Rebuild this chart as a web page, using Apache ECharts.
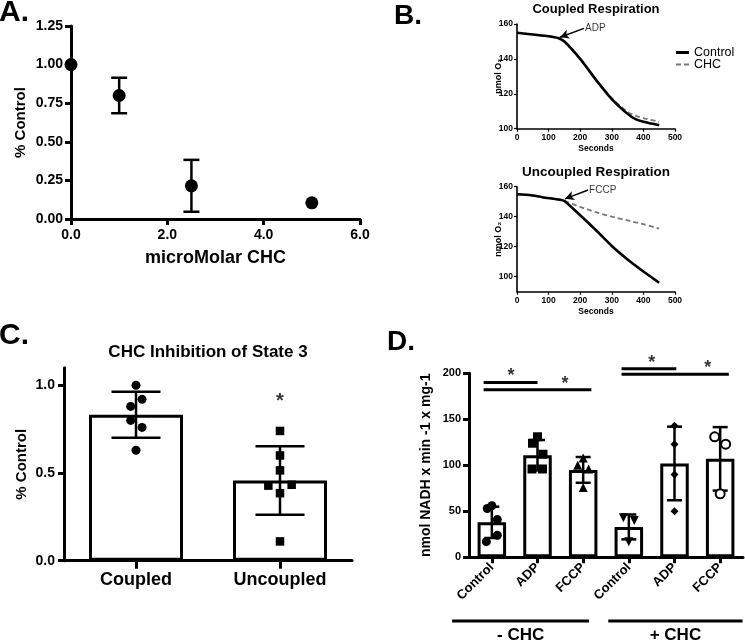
<!DOCTYPE html>
<html><head><meta charset="utf-8">
<script src="https://cdn.jsdelivr.net/npm/echarts@6/dist/echarts.min.js"></script>
<style>html,body{margin:0;padding:0;background:#fff}#c{width:745px;height:642px}</style>
</head><body><div id="c"></div>
<script>
const FONT = '"Liberation Sans", Arial, Helvetica, "DejaVu Sans", sans-serif';

// ---------- Panel A: dose response ----------
const aDose = [0, 1, 2.5, 5];
const aMean = [1.00, 0.80, 0.215, 0.105];
const aErr  = [0, 0.115, 0.168, 0];

// ---------- Panel B: oxygen traces ----------
const bCoupledTime    = [0, 50, 100, 130, 150, 200, 250, 300, 350, 375, 400, 450];
const bCoupledControl = [155, 154, 153, 152, 150, 140, 128, 117, 108.5, 105.5, 104, 102];
const bCoupledCHC     = [155, 154, 153, 152, 150, 140, 128, 117.5, 109.5, 107.5, 106, 104];
const bUncTime        = [0, 40, 80, 136, 150, 200, 250, 300, 350, 400, 450];
const bUncControl     = [155, 154.5, 153, 151.3, 150.5, 141, 131, 120.5, 111.5, 103.5, 96];
const bUncCHC         = [155, 154.5, 153, 151.3, 150.5, 146.5, 143, 140, 137.5, 135, 132];
const bAdpArrow  = [[212, 157.5], [136, 152.4]];
const bFccpArrow = [[225, 157.8], [152, 151.9]];

// ---------- Panel C: CHC inhibition of state 3 ----------
const cCats = ['Coupled', 'Uncoupled'];
const cMean = [0.832, 0.457];
const cSD   = [0.131, 0.195];
const cCoupled   = [1.00, 0.92, 0.88, 0.80, 0.76, 0.63];
const cUncoupled = [0.74, 0.60, 0.515, 0.428, 0.433, 0.385, 0.11];
const cCoupledJitter   = [0, 0.042, -0.037, -0.037, 0.042, 0];
const cUncoupledJitter = [0, 0, 0, -0.081, 0.081, 0, 0];
const cStar = [[1, 0.935]];

// ---------- Panel D: NADH oxidation ----------
const dLabels = ['Control', 'ADP', 'FCCP', 'Control', 'ADP', 'FCCP'];
const dMean = [38, 111, 95, 33, 102, 107];
const dSD   = [17, 16.5, 14, 13.5, 40, 34.5];
const dPoints = [[53, 56, 41, 24, 17], [131, 124, 112, 96, 96], [100, 108, 96, 76], [43, 40, 17], [143, 123, 90, 50], [131, 123, 69]];
const dJitter = [[-0.1, 0, 0.12, 0.12, -0.12], [0, -0.11, 0.12, -0.12, 0.11], [-0.12, 0, 0.12, 0], [-0.12, 0.12, 0], [0, 0, 0, 0], [-0.12, 0.12, 0]];
const dSymbols = ['circle', 'rect', 'triangle', 'triangle', 'diamond', 'emptyCircle'];
const dSymbolRotate = [0, 0, 0, 180, 0, 0];
const dSigFrom = [-0.18, -0.18, 2.84, 2.84];
const dSigTo   = [1.0, 2.18, 4.04, 5.19];
const dSigY    = [190, 182, 205, 199];
const dStarX   = [0.42, 1.6, 3.5, 4.73];
const dStarY   = [190, 182, 205, 199];
const dGroups    = ['- CHC', '+ CHC'];
const dGroupFrom = [-0.87, 2.55];
const dGroupTo   = [2.13, 5.49];

// ---------- helpers ----------
function errorBars(capPx, lw) {
  return function (params, api) {
    const x = api.value(0), m = api.value(1), e = api.value(2);
    if (!e) return null;
    const t = api.coord([x, m + e]), b = api.coord([x, m - e]);
    const st = { stroke: '#000', lineWidth: lw };
    const h = capPx / 2;
    return { type: 'group', children: [
      { type: 'line', shape: { x1: t[0], y1: t[1], x2: b[0], y2: b[1] }, style: st },
      { type: 'line', shape: { x1: t[0] - h, y1: t[1], x2: t[0] + h, y2: t[1] }, style: st },
      { type: 'line', shape: { x1: b[0] - h, y1: b[1], x2: b[0] + h, y2: b[1] }, style: st }
    ]};
  };
}
const zip = (xs, ys) => xs.map((x, i) => [x, ys[i]]);
const bold = (size) => ({ color: '#000', fontFamily: FONT, fontWeight: 'bold', fontSize: size });
const BLACK = { color: '#000', opacity: 1 };
const axLine = (w) => ({ show: true, onZero: false, lineStyle: { color: '#000', width: w } });
const axTick = (len, w, extra) => Object.assign({ show: true, length: len, lineStyle: { color: '#000', width: w } }, extra || {});

function valueAxis(o) {
  return Object.assign({
    type: 'value', z: 10, splitLine: { show: false },
    axisLine: axLine(3), axisTick: axTick(6, 3),
    nameLocation: 'middle', nameMoveOverlap: false
  }, o);
}

const series = [];

// Panel A
series.push({ type: 'custom', xAxisIndex: 0, yAxisIndex: 0, z: 2, clip: false,
  renderItem: errorBars(16, 2.5), data: aDose.map((x, i) => [x, aMean[i], aErr[i]]) });
series.push({ type: 'scatter', xAxisIndex: 0, yAxisIndex: 0, z: 3, clip: false,
  symbol: 'circle', symbolSize: 13, itemStyle: BLACK, data: zip(aDose, aMean) });

// Panel B (coupled)
series.push({ name: 'CHC', type: 'line', xAxisIndex: 1, yAxisIndex: 1, z: 2, showSymbol: false, symbol: 'none', smooth: 0.25,
  lineStyle: { color: '#7a7a7a', width: 1.8, type: [5, 3] }, itemStyle: { color: '#7a7a7a' },
  data: zip(bCoupledTime, bCoupledCHC) });
series.push({ name: 'Control', type: 'line', xAxisIndex: 1, yAxisIndex: 1, z: 3, showSymbol: false, symbol: 'none', smooth: 0.25,
  lineStyle: { color: '#000', width: 2.6 }, itemStyle: { color: '#000' },
  data: zip(bCoupledTime, bCoupledControl),
  markLine: { silent: true, symbol: ['none', 'arrow'], symbolSize: [7, 9], label: { show: false },
    lineStyle: { color: '#000', width: 1.5, type: 'solid' },
    data: [[{ coord: bAdpArrow[0] }, { coord: bAdpArrow[1] }]] } });
series.push({ type: 'scatter', xAxisIndex: 1, yAxisIndex: 1, symbolSize: 0, silent: true,
  label: { show: true, position: 'right', distance: 1, formatter: 'ADP', color: '#000', fontFamily: FONT, fontSize: 10 },
  data: [bAdpArrow[0]] });

// Panel B (uncoupled)
series.push({ name: 'CHC', type: 'line', xAxisIndex: 2, yAxisIndex: 2, z: 2, showSymbol: false, symbol: 'none', smooth: 0.25,
  lineStyle: { color: '#7a7a7a', width: 1.8, type: [5, 3] }, itemStyle: { color: '#7a7a7a' },
  data: zip(bUncTime, bUncCHC) });
series.push({ name: 'Control', type: 'line', xAxisIndex: 2, yAxisIndex: 2, z: 3, showSymbol: false, symbol: 'none', smooth: 0.2,
  lineStyle: { color: '#000', width: 2.6 }, itemStyle: { color: '#000' },
  data: zip(bUncTime, bUncControl),
  markLine: { silent: true, symbol: ['none', 'arrow'], symbolSize: [7, 9], label: { show: false },
    lineStyle: { color: '#000', width: 1.5, type: 'solid' },
    data: [[{ coord: bFccpArrow[0] }, { coord: bFccpArrow[1] }]] } });
series.push({ type: 'scatter', xAxisIndex: 2, yAxisIndex: 2, symbolSize: 0, silent: true,
  label: { show: true, position: 'right', distance: 1, formatter: 'FCCP', color: '#000', fontFamily: FONT, fontSize: 10 },
  data: [bFccpArrow[0]] });

// Panel C
series.push({ type: 'bar', xAxisIndex: 3, yAxisIndex: 3, z: 1, barWidth: 94,
  itemStyle: { color: '#fff', borderColor: '#000', borderWidth: 3, opacity: 1 }, data: cMean });
series.push({ type: 'custom', xAxisIndex: 4, yAxisIndex: 3, z: 2,
  renderItem: errorBars(49, 2.5), data: cMean.map((m, i) => [i, m, cSD[i]]) });
series.push({ type: 'scatter', xAxisIndex: 4, yAxisIndex: 3, z: 3, symbol: 'circle', symbolSize: 9,
  itemStyle: BLACK, data: cCoupled.map((v, i) => [0 + cCoupledJitter[i], v]) });
series.push({ type: 'scatter', xAxisIndex: 4, yAxisIndex: 3, z: 3, symbol: 'rect', symbolSize: 8.5,
  itemStyle: BLACK, data: cUncoupled.map((v, i) => [1 + cUncoupledJitter[i], v]) });
series.push({ type: 'scatter', xAxisIndex: 4, yAxisIndex: 3, symbolSize: 0, silent: true,
  label: { show: true, position: 'inside', formatter: '*', offset: [0, 5], ...bold(20) }, data: cStar });

// Panel D
series.push({ type: 'bar', xAxisIndex: 5, yAxisIndex: 4, z: 1, barWidth: 28.5,
  itemStyle: { color: '#fff', borderColor: '#000', borderWidth: 3, opacity: 1 }, data: dMean });
series.push({ type: 'custom', xAxisIndex: 6, yAxisIndex: 4, z: 2,
  renderItem: errorBars(15, 2.5), data: dMean.map((m, i) => [i, m, dSD[i]]) });
dPoints.forEach((pts, g) => {
  const open = dSymbols[g] === 'emptyCircle';
  series.push({ type: 'scatter', xAxisIndex: 6, yAxisIndex: 4, z: 3,
    symbol: open ? 'circle' : dSymbols[g], symbolRotate: dSymbolRotate[g],
    symbolSize: open ? 9 : (dSymbols[g] === 'diamond' ? 8 : 9),
    itemStyle: open ? { color: '#fff', borderColor: '#000', borderWidth: 2, opacity: 1 } : BLACK,
    data: pts.map((v, i) => [g + dJitter[g][i], v]) });
});
dSigY.forEach((y, i) => {
  series.push({ type: 'line', xAxisIndex: 6, yAxisIndex: 4, z: 4, symbol: 'none', clip: false, silent: true,
    lineStyle: { color: '#000', width: 3 }, data: [[dSigFrom[i], y], [dSigTo[i], y]] });
});
series.push({ type: 'scatter', xAxisIndex: 6, yAxisIndex: 4, symbolSize: 0, silent: true, clip: false,
  label: { show: true, position: 'inside', formatter: '*', offset: [0, -6], ...bold(18) },
  data: zip(dStarX, dStarY) });

const bAxisLine = axLine(1.6), bTick = axTick(3, 1.2);
const option = {
  animation: false,
  textStyle: { fontFamily: FONT },
  grid: [
    { left: 71, top: 26, width: 289, height: 193 },
    { left: 517, top: 24, width: 158, height: 104.7 },
    { left: 517, top: 186.7, width: 158, height: 105 },
    { left: 64, top: 367.8, width: 288, height: 192.9 },
    { left: 469, top: 373.3, width: 274, height: 184 }
  ],
  legend: { show: true, orient: 'vertical', left: 671, top: 41, itemWidth: 13, itemHeight: 3, itemGap: -1,
    selectedMode: false,
    data: [
      { name: 'Control', icon: 'rect', itemStyle: { color: '#000' } },
      { name: 'CHC', icon: 'path://M0,0h5v2h-5z M8,0h5v2h-5z', itemStyle: { color: '#777' } }
    ],
    textStyle: { color: '#000', fontFamily: FONT, fontSize: 12.5 } },
  xAxis: [
    valueAxis({ gridIndex: 0, min: 0, max: 6, interval: 2, name: 'microMolar CHC', nameGap: 30,
      nameTextStyle: bold(18), axisLabel: { ...bold(14), margin: 9, formatter: v => v.toFixed(1) } }),
    valueAxis({ gridIndex: 1, min: 0, max: 500, interval: 100, name: 'Seconds', nameGap: 15,
      nameTextStyle: bold(8.5), axisLine: bAxisLine, axisTick: bTick, axisLabel: { ...bold(8.5), margin: 4 } }),
    valueAxis({ gridIndex: 2, min: 0, max: 500, interval: 100, name: 'Seconds', nameGap: 15,
      nameTextStyle: bold(8.5), axisLine: bAxisLine, axisTick: bTick, axisLabel: { ...bold(8.5), margin: 4 } }),
    { type: 'category', z: 10, gridIndex: 3, data: cCats,
      axisLine: axLine(3), axisTick: axTick(8, 3, { alignWithLabel: true }),
      axisLabel: { ...bold(18), margin: 10 } },
    { type: 'value', gridIndex: 3, min: -0.5, max: 1.5, show: false },
    { type: 'category', z: 10, gridIndex: 4, data: dLabels.map((l, i) => 'd' + i),
      axisLine: axLine(3), axisTick: axTick(6, 3, { alignWithLabel: true }),
      axisLabel: { ...bold(13), rotate: 45, interval: 0, margin: 8, formatter: (v, i) => dLabels[i] } },
    { type: 'value', gridIndex: 4, min: -0.5, max: 5.5, show: false }
  ],
  yAxis: [
    valueAxis({ gridIndex: 0, min: 0, max: 1.25, interval: 0.25, name: '% Control', nameGap: 43,
      nameTextStyle: bold(15), axisLabel: { ...bold(14), margin: 8, formatter: v => v.toFixed(2) } }),
    valueAxis({ gridIndex: 1, min: 100, max: 160, interval: 20, name: 'nmol O₂', nameGap: 14,
      nameTextStyle: bold(9), axisLine: bAxisLine, axisTick: bTick, axisLabel: { ...bold(8.5), margin: 4 } }),
    valueAxis({ gridIndex: 2, min: 90, max: 160, name: 'nmol O₂', nameGap: 14,
      nameTextStyle: bold(9), axisLine: bAxisLine,
      axisTick: axTick(3, 1.2, { customValues: [100, 120, 140, 160] }),
      axisLabel: { ...bold(8.5), margin: 4, customValues: [100, 120, 140, 160] } }),
    valueAxis({ gridIndex: 3, min: 0, max: 1.1, name: '% Control', nameGap: 35,
      nameTextStyle: bold(15),
      axisTick: axTick(6, 3, { customValues: [0, 0.5, 1.0] }),
      axisLabel: { ...bold(14), margin: 9, customValues: [0, 0.5, 1.0], formatter: v => v.toFixed(1) } }),
    valueAxis({ gridIndex: 4, min: 0, max: 200, interval: 50, name: 'nmol NADH x min -1 x mg-1', nameGap: 36,
      nameTextStyle: bold(14), axisLabel: { ...bold(11), margin: 8 } })
  ],
  series: series
};

const chart = echarts.init(document.getElementById('c'), null, { renderer: 'canvas' });
chart.setOption(option);

// annotations: panel letters, titles, group brackets in panel D
const g = [];
const txt = (x, y, s, size, align) => ({ type: 'text', x: x, y: y, silent: true,
  style: { text: s, fill: '#000', font: 'bold ' + size + 'px ' + FONT, textAlign: align || 'left', textVerticalAlign: 'top' } });
g.push(txt(-1, -2, 'A.', 30));
g.push(txt(394, 2, 'B.', 28));
g.push(txt(-1, 321, 'C.', 30));
g.push(txt(387, 328, 'D.', 28));
const bTitleX = chart.convertToPixel({ xAxisIndex: 1 }, 250);
g.push(txt(bTitleX, 3, 'Coupled Respiration', 13, 'center'));
g.push(txt(bTitleX, 165, 'Uncoupled Respiration', 13.5, 'center'));
const cTitleX = chart.convertToPixel({ xAxisIndex: 4 }, 0.5);
g.push(txt(cTitleX, 344, 'CHC Inhibition of State 3', 17, 'center'));
const yLine = 621;
dGroups.forEach((label, i) => {
  const x1 = chart.convertToPixel({ xAxisIndex: 6 }, dGroupFrom[i]);
  const x2 = chart.convertToPixel({ xAxisIndex: 6 }, dGroupTo[i]);
  g.push({ type: 'line', silent: true, shape: { x1: x1, y1: yLine, x2: x2, y2: yLine }, style: { stroke: '#000', lineWidth: 3 } });
  g.push(txt((x1 + x2) / 2, 627, label, 17, 'center'));
});
chart.setOption({ graphic: g });
</script>
</body></html>
